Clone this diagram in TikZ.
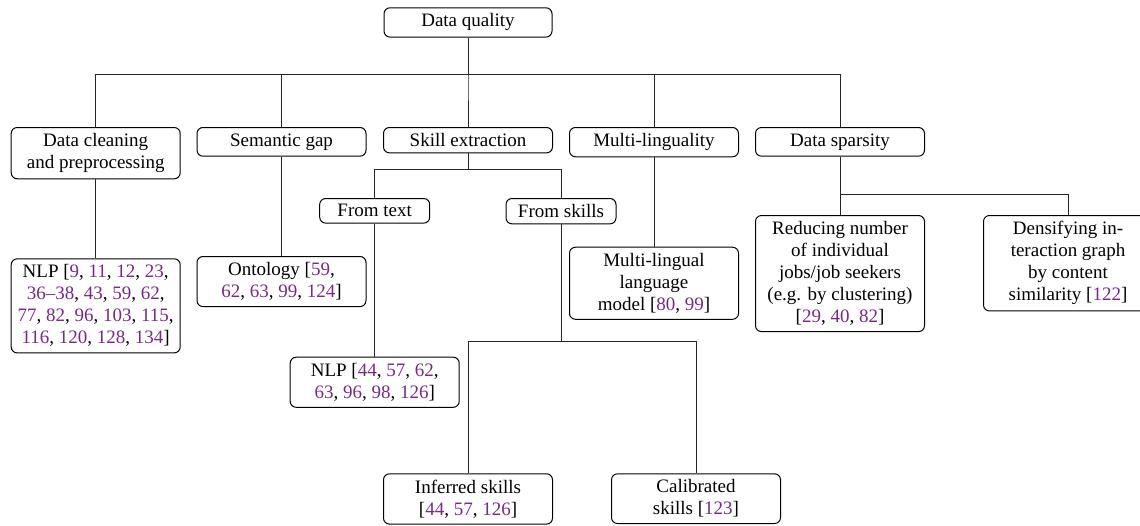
\documentclass[tikz,border=0pt]{standalone}
\usepackage{fontspec}
\setmainfont{Liberation Serif}
\usepackage{xcolor}
\usepackage{tikz}

\definecolor{citepurple}{RGB}{120,40,135}
\newcommand{\cn}[1]{\textcolor{citepurple}{#1}}

\begin{document}
\begin{tikzpicture}[
    x=0.5pt, y=-0.5pt,
    font=\fontsize{9.5}{11}\selectfont,
    box/.style={rectangle, draw, rounded corners=3pt, line width=0.5pt, minimum width=84.5pt, inner sep=3pt, align=center, anchor=north},
    smallbox/.style={box, minimum width=55pt},
    link/.style={line width=0.45pt, black!85}
]
    \useasboundingbox (0,0) rectangle (1140,525);

    % Root
    \node[box, minimum width=84pt] (dq) at (468,7.3) {Data quality};

    % Main issues
    \node[box] (clean) at (95.7,127) {Data cleaning\\and preprocessing};
    \node[box] (sem) at (281.5,127) {Semantic gap};
    \node[box] (skill) at (468,127) {Skill extraction};
    \node[box] (multi) at (654,127) {Multi-linguality};
    \node[box] (sparse) at (840,127) {Data sparsity};

    % Solutions
    \node[box] (nlpclean) at (95.7,258.3) {NLP [\cn{9}, \cn{11}, \cn{12}, \cn{23},\\\cn{36--38}, \cn{43}, \cn{59}, \cn{62},\\\cn{77}, \cn{82}, \cn{96}, \cn{103}, \cn{115},\\\cn{116}, \cn{120}, \cn{128}, \cn{134}]};
    \node[box] (onto) at (281.5,256) {Ontology [\cn{59},\\\cn{62}, \cn{63}, \cn{99}, \cn{124}]};
    \node[smallbox] (fromtext) at (374.7,198) {From text};
    \node[smallbox] (fromskills) at (561,198) {From skills};
    \node[box] (nlptext) at (374.7,356.7) {NLP [\cn{44}, \cn{57}, \cn{62},\\\cn{63}, \cn{96}, \cn{98}, \cn{126}]};
    \node[box] (inferred) at (468,473.3) {Inferred skills\\{}[\cn{44}, \cn{57}, \cn{126}]};
    \node[box] (calib) at (696,473.3) {Calibrated\\skills [\cn{123}]};
    \node[box] (mlmodel) at (654,246.7) {Multi-lingual\\language\\model [\cn{80}, \cn{99}]};
    \node[box] (reduce) at (840,215) {Reducing number\\of individual\\jobs/job seekers\\(e.g. by clustering)\\{}[\cn{29}, \cn{40}, \cn{82}]};
    \node[box] (dense) at (1068,215) {Densifying in-\\teraction graph\\by content\\similarity [\cn{122}]};

    % Levels of the branch lines
    \coordinate (dqbar) at (0,74.7);
    \coordinate (skillbar) at (0,169.3);
    \coordinate (fromskillsbar) at (0,341.7);
    \coordinate (sparsebar) at (0,194);

    % Branches
    \foreach \c in {clean,sem,skill,multi,sparse}
        \draw[link] (dq.south) |- (\c.north |- dqbar) -- (\c.north);
    \foreach \c in {fromtext,fromskills}
        \draw[link] (skill.south) |- (\c.north |- skillbar) -- (\c.north);
    \foreach \c in {inferred,calib}
        \draw[link] (fromskills.south) |- (\c.north |- fromskillsbar) -- (\c.north);
    \foreach \c in {reduce,dense}
        \draw[link] (sparse.south) |- (\c.north |- sparsebar) -- (\c.north);

    % Single children
    \draw[link] (clean) -- (nlpclean);
    \draw[link] (sem) -- (onto);
    \draw[link] (fromtext) -- (nlptext);
    \draw[link] (multi) -- (mlmodel);

\end{tikzpicture}
\end{document}
